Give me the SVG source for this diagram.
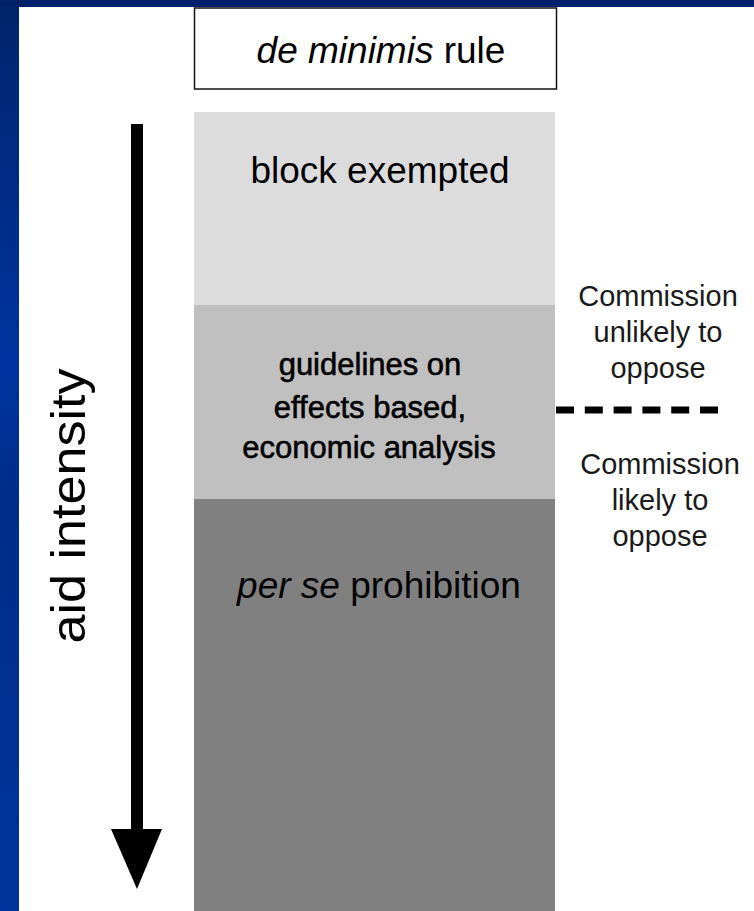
<svg xmlns="http://www.w3.org/2000/svg" width="754" height="911" viewBox="0 0 754 911">
<defs>
<linearGradient id="lb" x1="0" y1="0" x2="0" y2="1">
<stop offset="0" stop-color="#00256b"/>
<stop offset="0.4" stop-color="#0033a0"/>
<stop offset="0.55" stop-color="#002d8a"/>
<stop offset="1" stop-color="#00339b"/>
</linearGradient>
<style>
.t{font-family:"Liberation Sans",Arial,sans-serif;fill:#000;text-anchor:middle}
.g{font-family:"Liberation Sans",Arial,sans-serif;fill:#000;text-anchor:middle;font-size:31px;stroke:#000;stroke-width:0.6}
.s{font-family:"Liberation Sans",Arial,sans-serif;fill:#1a1a1a;text-anchor:middle;font-size:29px}
</style>
</defs>
<rect x="0" y="0" width="754" height="911" fill="#ffffff"/>
<rect x="0" y="0" width="19" height="911" fill="url(#lb)"/>
<rect x="0" y="0" width="754" height="7" fill="#00216a"/>

<g id="deminimis">
<rect x="194.5" y="8" width="362" height="81" fill="#ffffff" stroke="#111" stroke-width="1.5"/>
<text class="t" x="381" y="63" font-size="37"><tspan font-style="italic">de minimis</tspan> rule</text>
</g>
<g id="block">
<rect x="194" y="112" width="361" height="193" fill="#dcdcdc"/>
<text class="t" x="380" y="183" font-size="37">block exempted</text>
</g>
<g id="guidelines">
<rect x="194" y="305" width="361" height="194" fill="#c0c0c0"/>
<text class="g" x="370" y="375">guidelines on</text>
<text class="g" x="370" y="418">effects based,</text>
<text class="g" x="369" y="458">economic analysis</text>
</g>
<g id="perse">
<rect x="194" y="499" width="361" height="412" fill="#808080"/>
<text class="t" x="379" y="598" font-size="37"><tspan font-style="italic">per se</tspan> prohibition</text>
</g>
<g id="aid">
<text class="t" transform="translate(85,506) rotate(-90)" font-size="48" textLength="275" lengthAdjust="spacingAndGlyphs">aid intensity</text>
</g>
<g id="unlikely">
<text class="s" x="658" y="306">Commission</text>
<text class="s" x="658" y="342">unlikely to</text>
<text class="s" x="658" y="378">oppose</text>
</g>
<g id="likely">
<text class="s" x="660" y="474">Commission</text>
<text class="s" x="660" y="510">likely to</text>
<text class="s" x="660" y="546">oppose</text>
</g>
<g id="connectors">
<rect x="131" y="124" width="12" height="707" fill="#000"/>
<polygon points="111,829 162,829 137,889" fill="#000"/>
<line x1="556" y1="410" x2="718" y2="410" stroke="#000" stroke-width="7" stroke-dasharray="18 10.8"/>
</g>
</svg>
